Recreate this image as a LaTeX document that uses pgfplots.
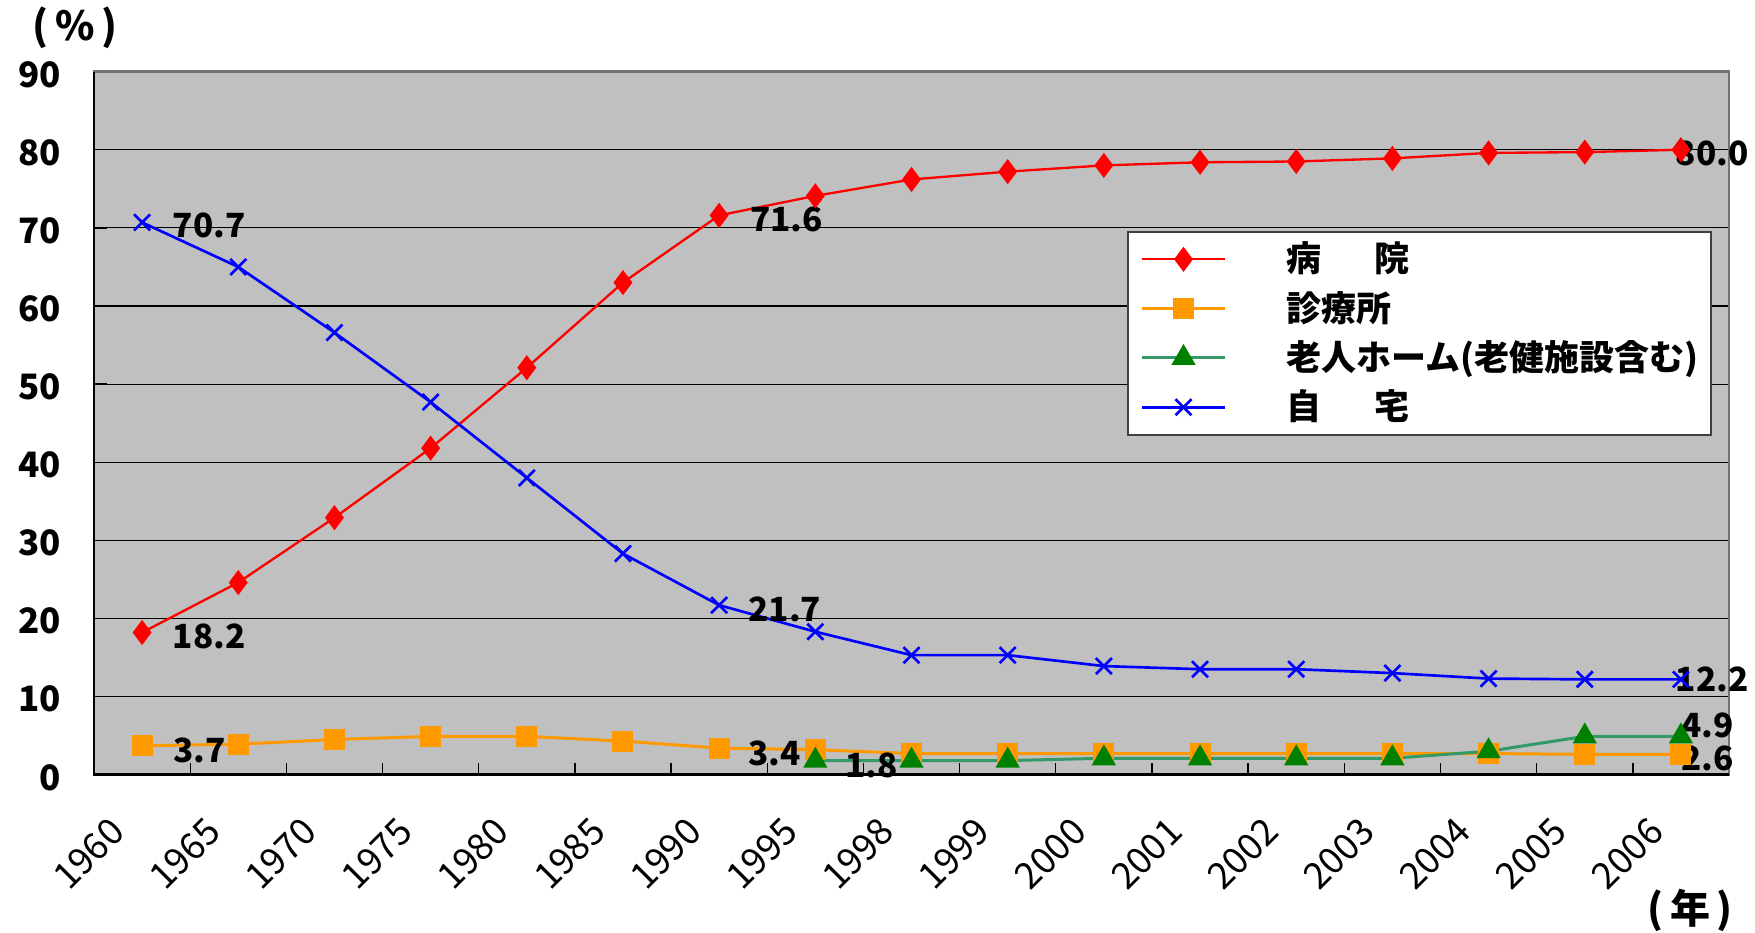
\documentclass[border=0pt]{standalone}
\usepackage{fontspec}
\setmainfont{Noto Sans CJK JP}
\usepackage{pgfplots}
\pgfplotsset{compat=1.18}
\definecolor{bg}{RGB}{192,192,192}
\definecolor{cred}{RGB}{255,0,0}
\definecolor{corange}{RGB}{255,153,0}
\definecolor{cgreenline}{RGB}{51,153,102}
\definecolor{cgreen}{RGB}{0,128,0}
\definecolor{cblue}{RGB}{0,0,255}

\pgfplotstableread{
x y
0 18.2
1 24.6
2 32.9
3 41.8
4 52.1
5 63.0
6 71.6
7 74.1
8 76.2
9 77.2
10 78.0
11 78.4
12 78.5
13 78.9
14 79.6
15 79.7
16 80.0
}\hospital
\pgfplotstableread{
x y
0 3.7
1 3.9
2 4.5
3 4.9
4 4.9
5 4.3
6 3.4
7 3.2
8 2.7
9 2.7
10 2.7
11 2.7
12 2.7
13 2.7
14 2.7
15 2.6
16 2.6
}\clinic
\pgfplotstableread{
x y
7 1.8
8 1.8
9 1.8
10 2.1
11 2.1
12 2.1
13 2.1
14 3.0
15 4.9
16 4.9
}\nursing
\pgfplotstableread{
x y
0 70.7
1 65.0
2 56.6
3 47.7
4 38.0
5 28.3
6 21.7
7 18.3
8 15.3
9 15.3
10 13.9
11 13.5
12 13.5
13 13.0
14 12.3
15 12.2
16 12.2
}\home

\begin{document}
\begin{tikzpicture}[font=\bfseries]
\useasboundingbox (-28.2pt,-47.5pt) rectangle (498.3pt,232.4pt);
\begin{axis}[
  scale only axis, width=490.5pt, height=210.9pt,
  at={(0pt,0pt)}, anchor=south west,
  xmin=-0.5, xmax=16.5, ymin=0, ymax=90,
  clip=false,
  xtick={0,...,16},
  xticklabels={1960,1965,1970,1975,1980,1985,1990,1995,1998,1999,2000,2001,2002,2003,2004,2005,2006},
  major x tick style={draw=none},
  minor xtick={0.5,1.5,...,15.5},
  minor x tick style={black, line width=0.4pt},
  tick align=inside, tick pos=left,
  minor tick length=3.5pt, major tick length=3.9pt,
  ytick={0,10,...,90},
  ymajorgrids, grid style={black, line width=0.35pt},
  major y tick style={black, line width=0.4pt},
  axis background/.style={fill=bg},
  axis line style={draw=black!55, line width=0.7pt},
  /pgf/number format/assume math mode=true,
  yticklabel style={font=\bfseries\fontsize{10.5}{10.5}\selectfont, xshift=-6.3pt, yshift=-0.8pt},
  xticklabel style={font=\mdseries\fontsize{11}{11}\selectfont, yshift=-12.6pt, xshift=-4.9pt, rotate=45, anchor=east},
  legend style={at={(0.6318,0.7733)}, anchor=north west, draw=black!75, line width=0.5pt,
    fill=white, inner xsep=3.75pt, inner ysep=3pt, row sep=4.3pt, column sep=18pt,
    nodes={inner sep=0pt, anchor=west},
    font=\bfseries\fontsize{10.5}{10.5}\selectfont},
  legend cell align=left,
  legend image code/.code={\draw[mark repeat=2,mark phase=2] plot coordinates {(0pt,0pt) (12.5pt,0pt) (25pt,0pt)};},
]
\addplot[cred, line width=0.7pt, mark=diamond*, mark size=3.2pt, mark options={fill=cred, draw=cred}] table {\hospital};
\addlegendentry{病\hspace{15.7pt}院}
\addplot[corange, line width=0.9pt, mark=square*, mark size=2.7pt, mark options={fill=corange, draw=corange}] table {\clinic};
\addlegendentry{診療所}
\addplot[cgreenline, line width=0.9pt, mark=triangle*, mark size=3.3pt, mark options={fill=cgreen, draw=cgreen}] table {\nursing};
\addlegendentry{老人ホーム(老健施設含む)}
\addplot[cblue, line width=0.8pt, mark=x, mark size=3.4pt, mark options={draw=cblue, line width=0.8pt}] table {\home};
\addlegendentry{自\hspace{15.7pt}宅}

\begin{scope}[every node/.style={font=\bfseries\fontsize{10}{10}\selectfont, anchor=west, inner sep=0pt}]
\node[xshift=9pt, yshift=-1.1pt] at (axis cs:0,18.2) {18.2};
\node[xshift=9pt, yshift=-1pt] at (axis cs:0,70.7) {70.7};
\node[xshift=9.2pt, yshift=-1.3pt] at (axis cs:0,3.7) {3.7};
\node[xshift=9.1pt, yshift=-1.3pt] at (axis cs:6,71.6) {71.6};
\node[xshift=8.6pt, yshift=-1.3pt] at (axis cs:6,21.7) {21.7};
\node[xshift=8.6pt, yshift=-1.7pt] at (axis cs:6,3.4) {3.4};
\node[xshift=8.7pt, yshift=-1.5pt] at (axis cs:7,1.8) {1.8};
\node[xshift=-1.7pt, yshift=-1pt] at (axis cs:16,80.0) {80.0};
\node[xshift=-1.7pt, yshift=0pt] at (axis cs:16,12.2) {12.2};
\node[xshift=0pt, yshift=3.4pt] at (axis cs:16,4.9) {4.9};
\node[xshift=0pt, yshift=-1.3pt] at (axis cs:16,2.6) {2.6};
\end{scope}
\end{axis}
\draw[black, line width=0.8pt] (0pt,210.9pt) -- (0pt,0pt) -- (490.5pt,0pt);
\node[font=\bfseries\fontsize{12}{12}\selectfont] at (478.8pt,-40.6pt) {(\,年\,)};
\node[font=\bfseries\fontsize{12}{12}\selectfont] at (-5.7pt,224pt) {(\,\%\,)};
\end{tikzpicture}
\end{document}
